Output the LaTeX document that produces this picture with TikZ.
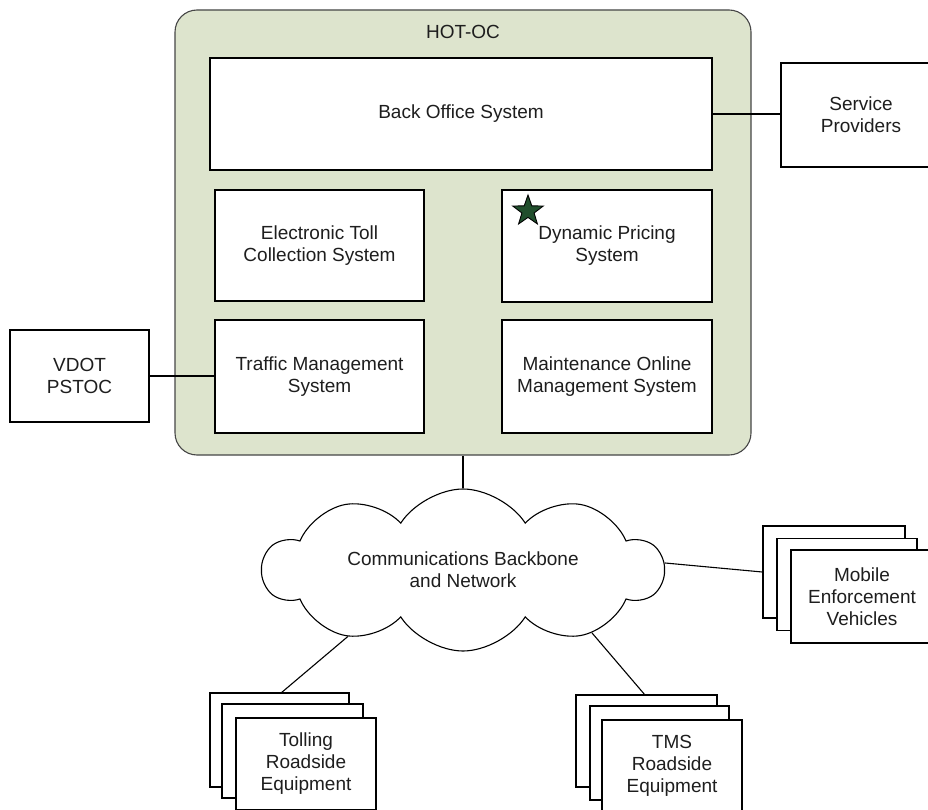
\documentclass[tikz,border=0pt]{standalone}
\usepackage{fontspec}
\setmainfont{Liberation Sans}
\usetikzlibrary{shapes.geometric,shapes.symbols}
\definecolor{ocfill}{RGB}{221,228,205}
\definecolor{ocline}{RGB}{70,70,70}
\definecolor{txt}{RGB}{30,30,30}
\definecolor{stargreen}{RGB}{32,78,44}
\tikzset{
  lbl/.style={font=\fontsize{19}{22}\selectfont, text=txt, align=center},
  sysbox/.style={draw=black, line width=1.4pt, fill=white, rectangle, inner sep=0pt, lbl},
  link/.style={draw=black, line width=1.1pt},
}
\begin{document}
\begin{tikzpicture}[x=1pt,y=-1pt]
\clip (0,0) rectangle (928,810);
\fill[white] (0,0) rectangle (928,810);

% operations centre container
\node[draw=ocline, line width=1.1pt, fill=ocfill, rounded corners=22pt,
      minimum width=576pt, minimum height=445pt, inner sep=0pt] (hotoc) at (463,232.5) {};
\node[lbl] (hotoclbl) at (463,32) {HOT-OC};

% subsystems
\node[sysbox, minimum width=502pt, minimum height=112pt] (bos) at (461,114) {Back Office System};
\node[sysbox, minimum width=209pt, minimum height=111pt] (etc) at (319.5,245.5) {Electronic Toll\\Collection System};
\node[sysbox, minimum width=210pt, minimum height=112pt] (dps) at (607,246) {Dynamic Pricing\\System};
\node[sysbox, minimum width=209pt, minimum height=113pt] (tms) at (319.5,376.5) {Traffic Management\\System};
\node[sysbox, minimum width=210pt, minimum height=113pt] (moms) at (607,376.5) {Maintenance Online\\Management System};
\node[star, star points=5, star point ratio=2.5, draw=black, line width=0.9pt,
      fill=stargreen, minimum size=32pt, inner sep=0pt] (mark) at (528,211) {};

% external parties
\node[sysbox, minimum width=160pt, minimum height=104pt] (sp) at (861,115) {Service\\Providers};
\node[sysbox, minimum width=139pt, minimum height=92pt] (vdot) at (79.5,376) {VDOT\\PSTOC};

% network cloud
\node[cloud, cloud puffs=10, cloud puff arc=115, cloud ignores aspect, draw=black,
      line width=1.1pt, fill=white, minimum width=400pt, minimum height=162pt,
      inner sep=0pt, lbl] (net) at (463,570) {Communications Backbone\\and Network};

% field equipment stacks
\node[sysbox, minimum width=142pt, minimum height=92pt] (mev1) at (834,572) {};
\node[sysbox, minimum width=140pt, minimum height=92pt] (mev2) at (847,584.5) {};
\node[sysbox, minimum width=142pt, minimum height=93pt] (mev3) at (862,596.5) {Mobile\\Enforcement\\Vehicles};

\node[sysbox, minimum width=139pt, minimum height=94pt] (tre1) at (279.5,740) {};
\node[sysbox, minimum width=141pt, minimum height=94pt] (tre2) at (292.5,751) {};
\node[sysbox, minimum width=140pt, minimum height=92pt] (tre3) at (306,764) {Tolling\\Roadside\\Equipment};

\node[sysbox, minimum width=141pt, minimum height=92pt] (tmse1) at (646.5,741) {};
\node[sysbox, minimum width=139pt, minimum height=94pt] (tmse2) at (659.5,753) {};
\node[sysbox, minimum width=140pt, minimum height=92pt] (tmse3) at (672,766) {TMS\\Roadside\\Equipment};

% connectors
\draw[link] (bos.east) -- (bos.east -| sp.west);
\draw[link] (vdot.east) -- (vdot.east -| tms.west);
\draw[link] (hotoc.south) -- (net.90);
\draw[link] (net.2) -- (mev1.west);
\coordinate (treTop) at (281,693);
\coordinate (tmsTop) at (645,695);
\draw[link] (net.-150) -- (treTop);
\draw[link] (net.-26) -- (tmsTop);
\end{tikzpicture}
\end{document}
